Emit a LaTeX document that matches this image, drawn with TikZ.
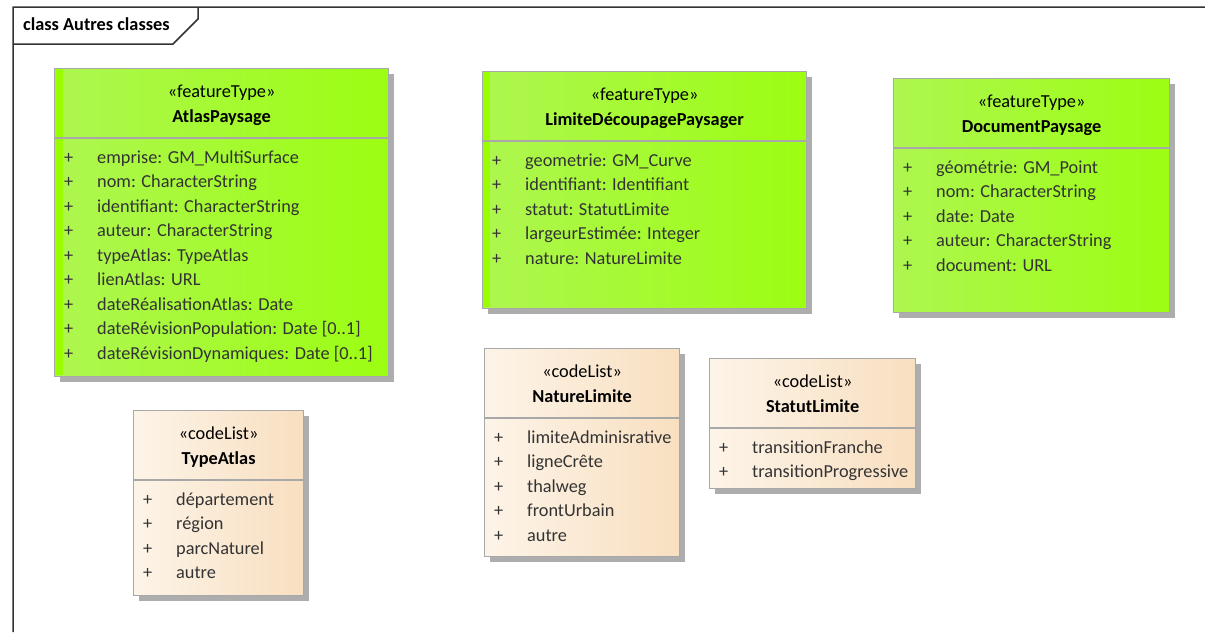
\documentclass[tikz,border=0pt]{standalone}
\usepackage{fontspec}
\setmainfont{Carlito}
\usetikzlibrary{shadows,calc}
\definecolor{featL}{HTML}{AEF650}
\definecolor{featR}{HTML}{9CFE12}
\definecolor{featS}{HTML}{99FF00}
\definecolor{codeL}{HTML}{FDF4E8}
\definecolor{codeR}{HTML}{F8DFC0}
\definecolor{boxgray}{HTML}{A8A8A8}
\definecolor{shadowgray}{HTML}{ADADAD}
\definecolor{attrgray}{HTML}{333333}
\tikzset{
  classbox/.style={draw=boxgray,line width=1.2pt,anchor=north west,inner sep=0pt,
    drop shadow={shadow xshift=5pt,shadow yshift=-5pt,opacity=1,fill=shadowgray}},
  feature/.style={classbox,left color=featL,right color=featR},
  codelist/.style={classbox,left color=codeL,right color=codeR},
  txt/.style={font=\fontsize{18.3}{22}\selectfont,inner sep=0pt,text height=13pt,text depth=4pt},
  attr/.style={txt,anchor=west,text=attrgray}
}
% compartments and attribute rows of one class box
\newcommand\classparts[4]{%
  \draw[boxgray,line width=1.2pt] ([yshift=-70pt]#1.north west) -- ([yshift=-70pt]#1.north east);
  \node[txt] at ($(#1.north)+(0,25)$) {«#2»};
  \node[txt,font=\fontsize{18.3}{22}\selectfont\bfseries] at ($(#1.north)+(0,50)$) {#3};
  \foreach \a [count=\i from 0] in {#4}
    {\node[attr] at ($(#1.north west)+(10,{90.5+24.5*\i})$) {+};
     \node[attr] at ($(#1.north west)+(43,{90.5+24.5*\i})$) {\a};}
}
\begin{document}
\begin{tikzpicture}[x=1pt,y=-1pt]
\useasboundingbox (0,0) rectangle (1205,632);
\draw[line width=1.5pt,black!80] (13,632)--(13,7)--(1205,7) (13,44)--(173,44)--(198,19)--(198,7);
\node[txt,anchor=west,font=\fontsize{18.3}{22}\selectfont\bfseries] (tab) at (23,26) {class Autres classes};

\node[feature,minimum width=334pt,minimum height=308pt] (atlas) at (54,68) {};
\fill[featS] ($(atlas.north west)+(0.6,0.6)$) rectangle ++(8,306.8);
\classparts{atlas}{featureType}{AtlasPaysage}{emprise: GM\_MultiSurface,nom: CharacterString,
  identifiant: CharacterString,auteur: CharacterString,typeAtlas: TypeAtlas,lienAtlas: URL,
  dateRéalisationAtlas: Date,dateRévisionPopulation: Date [0..1],dateRévisionDynamiques: Date [0..1]}

\node[feature,minimum width=324pt,minimum height=237pt] (limite) at (482,71) {};
\fill[featS] ($(limite.north west)+(0.6,0.6)$) rectangle ++(7,235.8);
\classparts{limite}{featureType}{LimiteDécoupagePaysager}{geometrie: GM\_Curve,
  identifiant: Identifiant,statut: StatutLimite,largeurEstimée: Integer,nature: NatureLimite}

\node[feature,minimum width=276pt,minimum height=234pt] (document) at (893,78) {};
\classparts{document}{featureType}{DocumentPaysage}{géométrie: GM\_Point,nom: CharacterString,
  date: Date,auteur: CharacterString,document: URL}

\node[codelist,minimum width=170pt,minimum height=185pt] (typeatlas) at (133,410) {};
\classparts{typeatlas}{codeList}{TypeAtlas}{département,région,parcNaturel,autre}

\node[codelist,minimum width=195pt,minimum height=208pt] (nature) at (484,348) {};
\classparts{nature}{codeList}{NatureLimite}{limiteAdminisrative,ligneCrête,thalweg,frontUrbain,autre}

\node[codelist,minimum width=206pt,minimum height=130pt] (statut) at (709,358) {};
\classparts{statut}{codeList}{StatutLimite}{transitionFranche,transitionProgressive}
\end{tikzpicture}
\end{document}
